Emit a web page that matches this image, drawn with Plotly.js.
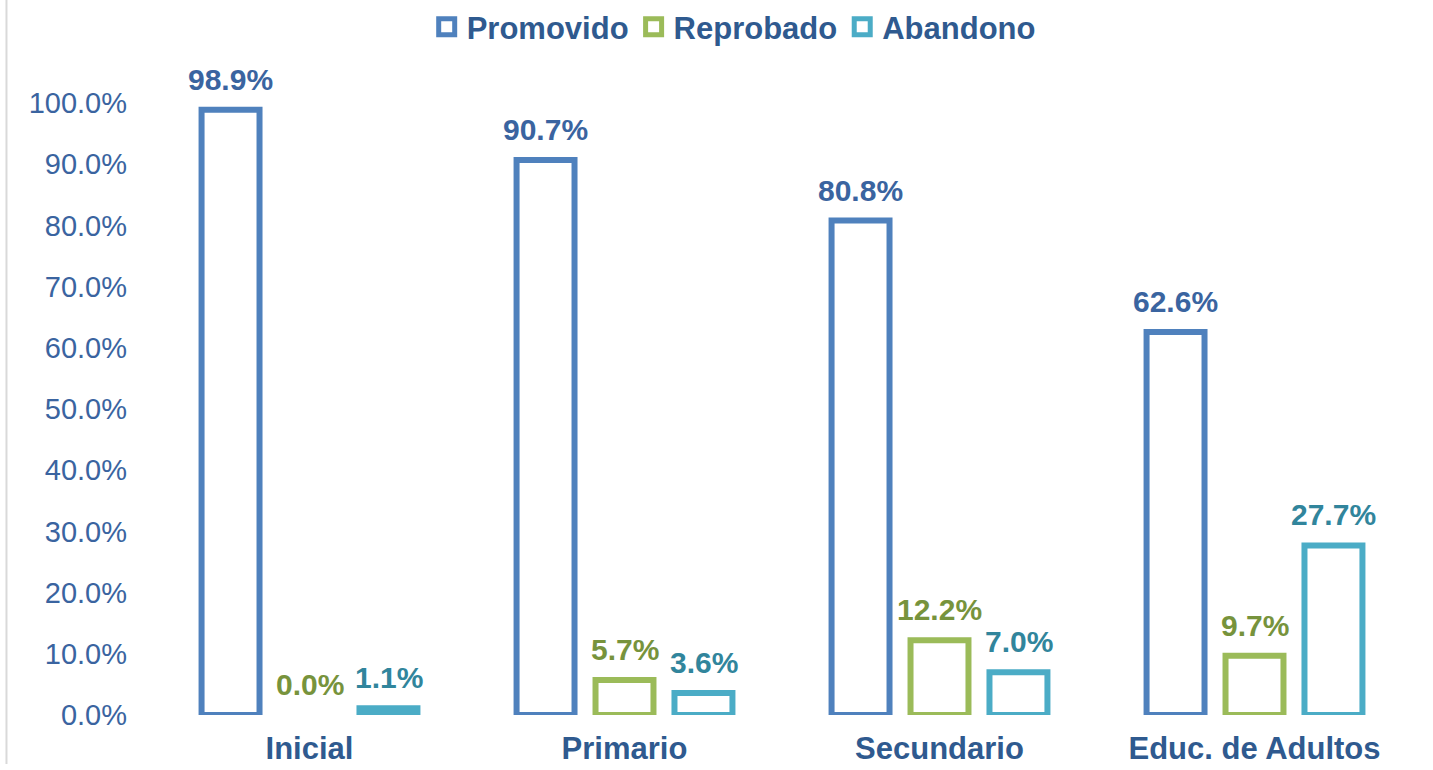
<!DOCTYPE html>
<html>
<head>
<meta charset="utf-8">
<script src="https://cdn.plot.ly/plotly-3.0.1.min.js"></script>
<style>html,body{margin:0;padding:0;background:#fff;}#chart{width:1433px;height:770px;}</style>
</head>
<body>
<div id="chart"></div>
<script>
var categories = ["Inicial", "Primario", "Secundario", "Educ. de Adultos"];
var seriesNames = ["Promovido", "Reprobado", "Abandono"];
var promovido = [98.9, 90.7, 80.8, 62.6];
var reprobado = [0.0, 5.7, 12.2, 9.7];
var abandono = [1.1, 3.6, 7.0, 27.7];
var yTicks = [0, 10, 20, 30, 40, 50, 60, 70, 80, 90, 100];

var seriesValues = [promovido, reprobado, abandono];
var barColors = ["#4F81BD", "#9BBB59", "#4BACC6"];
var labelColors = ["#3A64A0", "#77933C", "#31859C"];
var FONT = "Liberation Sans, Arial, sans-serif";

var traces = [];
seriesValues.forEach(function (vals, j) {
  traces.push({
    type: "bar",
    name: seriesNames[j],
    x: categories,
    y: vals,
    showlegend: false,
    legendgroup: seriesNames[j],
    marker: {
      color: vals.map(function (v) { return v < 2 ? barColors[j] : "#ffffff"; }),
      line: { color: barColors[j], width: vals.map(function (v) { return v > 0 ? 6 : 0; }) }
    },
    hoverinfo: "x+y+name"
  });
});
// legend entries (hollow squares like the reference)
seriesNames.forEach(function (n, j) {
  traces.push({
    type: "scatter", mode: "markers", name: n, legendgroup: n,
    x: [null], y: [null], showlegend: true, hoverinfo: "skip",
    marker: { symbol: "square", size: 16, color: "#ffffff", line: { color: barColors[j], width: 5 } }
  });
});

var slotPx = 79;
var annotations = [];
seriesValues.forEach(function (vals, j) {
  vals.forEach(function (v, i) {
    annotations.push({
      x: categories[i], y: v, xref: "x", yref: "y",
      text: v.toFixed(1) + "%",
      showarrow: false, xanchor: "center", yanchor: "bottom",
      xshift: (j - 1) * slotPx, yshift: 12,
      font: { family: FONT, size: 30, color: labelColors[j], weight: "bold" }
    });
  });
});

var layout = {
  width: 1433, height: 770,
  margin: { l: 152, r: 21, t: 103, b: 55 },
  paper_bgcolor: "#ffffff", plot_bgcolor: "#ffffff",
  barmode: "group", bargap: 0.248, bargroupgap: 0.266,
  showlegend: true,
  legend: {
    orientation: "h", xref: "container", yref: "container",
    x: 0.512, xanchor: "center", y: 1.0, yanchor: "top",
    font: { family: FONT, size: 31, color: "#2F5A8F", weight: "bold" },
    itemwidth: 30, tracegroupgap: 0, bgcolor: "rgba(0,0,0,0)"
  },
  xaxis: {
    type: "category",
    tickfont: { family: FONT, size: 31, color: "#2F5A8F", weight: "bold" },
    showgrid: false, zeroline: false, showline: false, ticks: "",
    ticklabelstandoff: 12, fixedrange: true
  },
  yaxis: {
    range: [0, 100], tickvals: yTicks,
    ticktext: yTicks.map(function (t) { return t.toFixed(1) + "%"; }),
    tickfont: { family: FONT, size: 29, color: "#3A64A0" },
    showgrid: false, zeroline: false, showline: false, ticks: "",
    ticklabelstandoff: 24, fixedrange: true
  },
  annotations: annotations,
  shapes: [{
    type: "line", xref: "paper", yref: "paper",
    x0: -0.1155, x1: -0.1155, y0: -0.08, y1: 1.2,
    line: { color: "#D9D9D9", width: 2 }
  }]
};

Plotly.newPlot("chart", traces, layout, { displayModeBar: false, staticPlot: true });
</script>
</body>
</html>
